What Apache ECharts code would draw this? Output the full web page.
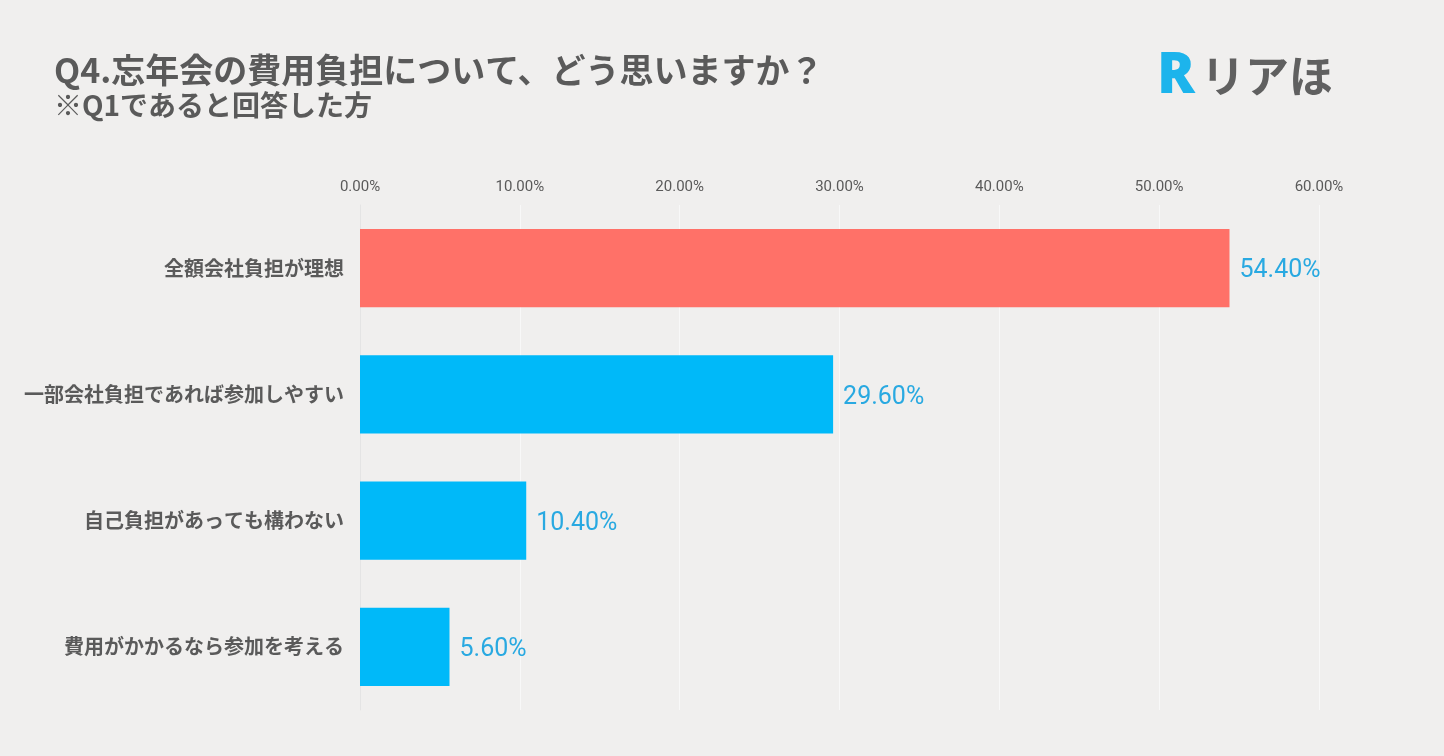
<!DOCTYPE html>
<html lang="ja">
    <head>
        <meta charset="UTF-8" />
        <script src="https://cdn.jsdelivr.net/npm/echarts@6.0.0/dist/echarts.min.js"></script>
        <title>Q4 忘年会の費用負担</title>
        <style>
            html,
            body {
                margin: 0;
                padding: 0;
                background: #f0efee;
            }

            #chart {
                width: 1444px;
                height: 756px;
            }
        </style>
    </head>

    <body>
        <div id="chart"></div>
        <script type="text/javascript">
            // data
            var categories = [
                "全額会社負担が理想",
                "一部会社負担であれば参加しやすい",
                "自己負担があっても構わない",
                "費用がかかるなら参加を考える",
            ];
            var values = [54.4, 29.6, 10.4, 5.6];
            var barColors = ["#ff7168", "#00b9f9", "#00b9f9", "#00b9f9"];

            var font = "'Noto Sans CJK JP', 'Noto Sans', sans-serif";
            var textGray = "#5a5a5a";

            var chart = echarts.init(document.getElementById("chart"));

            var option = {
                backgroundColor: "#f0efee",
                animation: false,
                textStyle: { fontFamily: font },
                graphic: [
                    {
                        type: "text",
                        left: 54,
                        top: 53,
                        style: {
                            text: "Q4.忘年会の費用負担について、どう思いますか？",
                            font: "bold 34px " + font,
                            fill: textGray,
                        },
                    },
                    {
                        type: "text",
                        left: 54,
                        top: 91,
                        style: {
                            text: "※Q1であると回答した方",
                            font: "bold 28px " + font,
                            fill: textGray,
                        },
                    },
                    // logo
                    {
                        type: "text",
                        left: 1157,
                        top: 49,
                        style: {
                            text: "R",
                            font: "900 56px 'Noto Sans', sans-serif",
                            fill: "#1cb4ec",
                        },
                    },
                    {
                        type: "text",
                        left: 1201,
                        top: 54,
                        style: {
                            text: "リアほ",
                            font: "bold 44px " + font,
                            fill: "#606060",
                        },
                    },
                ],
                grid: {
                    left: 360,
                    right: 125,
                    top: 205,
                    bottom: 46,
                },
                xAxis: {
                    type: "value",
                    position: "top",
                    min: 0,
                    max: 60,
                    interval: 10,
                    axisLine: { show: false },
                    axisTick: { show: false },
                    axisLabel: {
                        color: textGray,
                        fontSize: 15,
                        margin: 10,
                        fontFamily: "Roboto, sans-serif",
                        formatter: function (v) {
                            return v.toFixed(2) + "%";
                        },
                    },
                    splitLine: {
                        lineStyle: { color: "#f8f8f8", width: 1 },
                    },
                },
                yAxis: {
                    type: "category",
                    inverse: true,
                    data: categories,
                    axisLine: { show: true, lineStyle: { color: "#e4e4e4" } },
                    axisTick: { show: false },
                    axisLabel: {
                        color: textGray,
                        fontSize: 20,
                        fontWeight: "bold",
                        margin: 16,
                    },
                },
                series: [
                    {
                        type: "bar",
                        barCategoryGap: "38%",
                        data: values.map(function (v, i) {
                            return { value: v, itemStyle: { color: barColors[i] } };
                        }),
                        label: {
                            show: true,
                            position: "right",
                            distance: 10,
                            offset: [0, 3],
                            color: "#29a9e1",
                            fontSize: 25,
                            fontFamily: "Roboto, sans-serif",
                            formatter: function (p) {
                                return p.value.toFixed(2) + "%";
                            },
                        },
                    },
                ],
            };

            chart.setOption(option);
        </script>
    </body>
</html>
